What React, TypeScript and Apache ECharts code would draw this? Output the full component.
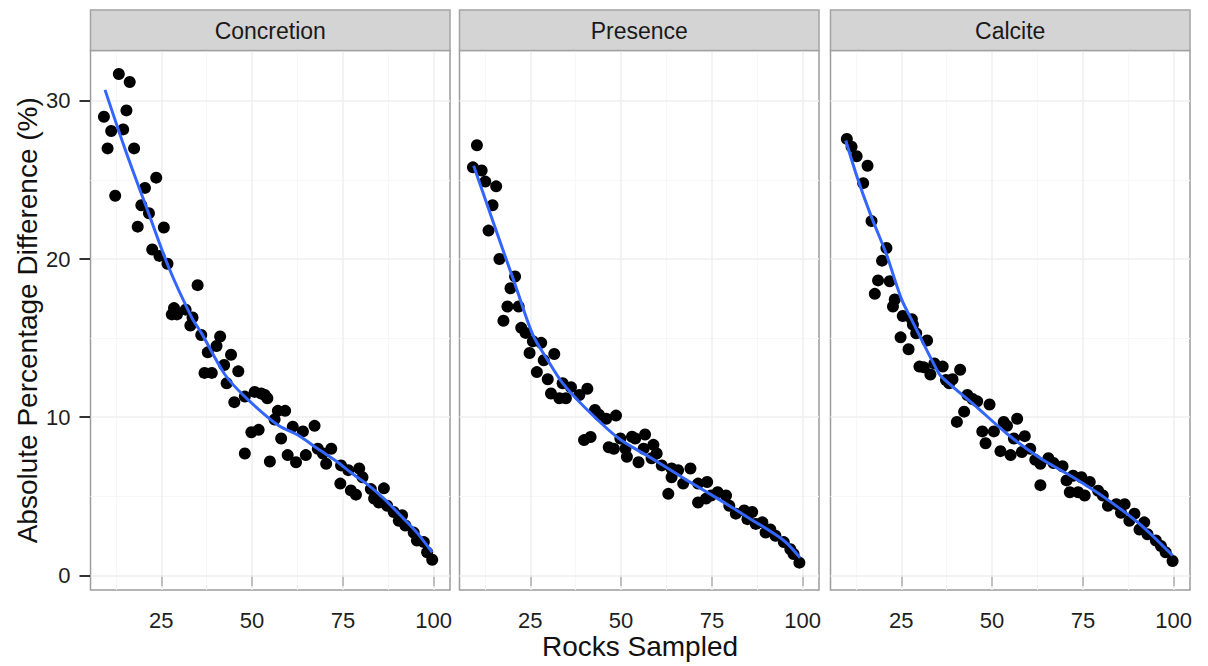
import React, { useEffect, useRef } from "react";
import * as echarts from "echarts";

// ---------- data ----------
const PANELS = ["Concretion", "Presence", "Calcite"];

const concretionPoints: [number, number][] = [
  [9.2, 29.0], [10.2, 27.0], [11.2, 28.1], [12.3, 24.0], [13.3, 31.7], [14.5, 28.2], [15.4, 29.4],
  [16.3, 31.2], [17.5, 27.0], [18.5, 22.05], [19.5, 23.4], [20.5, 24.5], [21.6, 22.9], [22.5, 20.6],
  [23.6, 25.15], [24.5, 20.2], [25.7, 22.0], [26.7, 19.7], [27.9, 16.5], [28.5, 16.9], [29.3, 16.5],
  [31.7, 16.8], [33.6, 16.3], [33.0, 15.8], [35.0, 18.35], [36.0, 15.2], [36.9, 12.8], [37.8, 14.1],
  [38.9, 12.8], [40.2, 14.5], [41.2, 15.1], [42.3, 13.3], [43.0, 12.15], [44.2, 13.95], [45.1, 10.95],
  [46.2, 12.9], [48.0, 11.3], [48.0, 7.7], [49.8, 9.05], [50.7, 11.6], [51.8, 9.2], [52.5, 11.5],
  [53.5, 11.4], [54.2, 11.2], [54.9, 7.2], [56.2, 9.85], [57.1, 10.4], [58.0, 8.65], [59.1, 10.4],
  [59.8, 7.6], [61.2, 9.4], [62.1, 7.15], [64.0, 9.1], [64.8, 7.6], [67.2, 9.45], [68.1, 8.0],
  [69.5, 7.7], [70.4, 7.05], [71.8, 8.0], [74.3, 5.8], [74.5, 6.95], [76.5, 6.65], [77.2, 5.37],
  [78.6, 5.1], [79.5, 6.75], [80.4, 6.2], [82.7, 5.45], [83.6, 4.85], [84.9, 4.6], [86.3, 5.5],
  [87.2, 4.4], [89.0, 4.0], [90.4, 3.45], [91.3, 3.8], [92.2, 3.15], [94.5, 2.7], [95.4, 2.2],
  [97.3, 2.1], [98.2, 1.45], [99.6, 0.98],
];
const concretionSmooth: [number, number][] = [
  [9.5, 30.7], [15.1, 26.9], [21.5, 22.9], [27, 19.5], [33.4, 16.3], [36.1, 15.3], [42.5, 12.7],
  [48, 11.3], [57.1, 9.5], [62.6, 8.87], [68.1, 8.0], [73.5, 7.17], [77.2, 6.5], [82.7, 5.58],
  [86.3, 4.85], [90.9, 3.78], [95.4, 2.7], [99.6, 1.45],
];

const presencePoints: [number, number][] = [
  [9.2, 25.8], [10.3, 27.2], [11.6, 25.6], [12.6, 24.9], [13.5, 21.8], [14.6, 23.4], [15.6, 24.6],
  [16.5, 20.0], [17.6, 16.1], [18.7, 17.0], [19.55, 18.15], [20.8, 18.9], [21.8, 17.0], [22.5, 15.65],
  [23.7, 15.33], [24.8, 14.06], [25.7, 14.8], [26.8, 12.85], [28.0, 14.7], [28.7, 13.6], [29.8, 12.4],
  [30.7, 11.5], [31.6, 14.0], [33.0, 11.2], [33.9, 12.15], [34.8, 11.2], [36.2, 11.9], [38.5, 11.4],
  [39.8, 8.55], [40.7, 11.8], [41.6, 8.75], [42.8, 10.45], [43.9, 10.15], [45.9, 9.9], [46.6, 8.1],
  [48.0, 8.0], [48.6, 10.1], [49.8, 8.65], [51.2, 8.0], [51.6, 7.5], [53.0, 8.76], [53.9, 8.65],
  [54.8, 7.15], [56.2, 8.0], [56.6, 8.9], [58.4, 7.4], [58.9, 8.25], [59.8, 7.7], [61.2, 6.95],
  [63.0, 5.15], [63.9, 6.75], [63.9, 6.2], [65.7, 6.65], [67.1, 5.8], [69.1, 6.75], [71.2, 5.8],
  [71.2, 4.6], [73.4, 4.85], [73.7, 5.9], [74.8, 5.05], [76.6, 5.25], [78.9, 5.05], [79.8, 4.4],
  [81.6, 3.9], [83.9, 4.1], [84.8, 3.55], [86.1, 4.0], [87.1, 3.25], [88.9, 3.35], [89.8, 2.7],
  [91.1, 2.9], [92.5, 2.5], [94.8, 2.1], [96.6, 1.65], [97.5, 1.35], [99.1, 0.8],
];
const presenceSmooth: [number, number][] = [
  [9.4, 25.9], [15.3, 22.0], [21.1, 18.2], [25.7, 15.2], [29.8, 13.6], [33.9, 12.15], [40.3, 10.55],
  [49.4, 8.65], [58.4, 7.4], [67.5, 6.1], [76.6, 4.85], [85.7, 3.55], [94.8, 2.2], [99.3, 1.1],
];

const calcitePoints: [number, number][] = [
  [10.0, 27.6], [11.3, 27.1], [12.7, 26.5], [14.5, 24.8], [15.7, 25.9], [16.8, 22.4], [17.7, 17.8],
  [18.6, 18.65], [19.7, 19.9], [20.9, 20.7], [21.8, 18.6], [22.7, 17.0], [23.2, 17.45], [24.8, 15.05],
  [25.4, 16.4], [27.0, 14.3], [27.9, 16.2], [28.2, 15.85], [29.1, 15.3], [30.0, 13.2], [31.2, 13.15],
  [32.1, 14.85], [33.0, 12.7], [34.1, 13.4], [36.4, 13.2], [37.3, 12.35], [38.2, 12.15], [39.1, 12.4],
  [40.3, 9.7], [41.2, 13.0], [42.3, 10.35], [43.2, 11.4], [44.6, 11.15], [45.9, 11.0], [47.3, 9.1],
  [48.2, 8.35], [49.3, 10.8], [50.5, 9.1], [52.3, 7.85], [53.2, 9.7], [54.1, 9.45], [55.1, 7.6],
  [56.0, 8.65], [56.9, 9.9], [58.2, 7.8], [59.0, 8.8], [60.5, 8.0], [61.9, 7.3], [63.3, 7.05],
  [63.3, 5.7], [65.5, 7.4], [66.9, 7.1], [69.4, 6.9], [70.5, 6.0], [71.4, 5.25], [72.3, 6.3],
  [73.7, 5.25], [74.6, 6.2], [75.5, 5.05], [76.9, 5.9], [79.2, 5.35], [80.5, 5.05], [81.9, 4.4],
  [84.2, 4.5], [85.5, 3.95], [86.5, 4.5], [87.8, 3.45], [89.2, 3.9], [90.6, 2.9], [91.9, 3.35],
  [92.8, 2.6], [95.1, 2.2], [96.5, 1.85], [97.8, 1.45], [99.7, 0.9],
];
const calciteSmooth: [number, number][] = [
  [9.7, 27.5], [13.1, 25.0], [16.8, 22.65], [20.9, 20.3], [25, 17.5], [28.2, 16.0], [34.1, 13.3],
  [35.9, 12.6], [45, 10.8], [54.1, 8.95], [63.3, 7.4], [72.3, 6.2], [81.4, 4.85], [90.6, 3.25],
  [99.7, 1.25],
];

const X_TICKS = [25, 50, 75, 100];
const X_MINOR = [12.5, 37.5, 62.5, 87.5];
const Y_TICKS = [0, 10, 20, 30];
const Y_MINOR = [5, 15, 25];

const X_TITLE = "Rocks Sampled";
const Y_TITLE = "Absolute Percentage Difference (%)";

// ---------- layout ----------
const W = 1208;
const H = 666;
const PANEL_LEFTS = [90.5, 459.5, 830.5];
const PANEL_W = 359.5;
const PANEL_TOP = 50.5;
const PANEL_H = 539.5;
const STRIP_TOP = 10;
const FONT = "'Liberation Sans', Arial, Helvetica, sans-serif";

export default function App() {
  const ref = useRef<HTMLDivElement>(null);

  useEffect(() => {
    if (!ref.current) return;
    const chart = echarts.init(ref.current, null, { renderer: "svg" });

    const pointSets = [concretionPoints, presencePoints, calcitePoints];
    const smoothSets = [concretionSmooth, presenceSmooth, calciteSmooth];

    const grids = PANEL_LEFTS.map((left) => ({
      left,
      top: PANEL_TOP,
      width: PANEL_W,
      height: PANEL_H,
      show: true,
      backgroundColor: "#ffffff",
      borderColor: "#9c9c9c",
      borderWidth: 1.5,
    }));

    const xAxes = PANEL_LEFTS.map((_, i) => ({
      type: "value",
      gridIndex: i,
      min: 5.5,
      max: 104.5,
      axisLine: { show: false },
      splitLine: { show: false },
      axisTick: {
        show: true,
        customValues: X_TICKS,
        length: 11,
        lineStyle: { color: "#333333", width: 2 },
      },
      axisLabel: {
        show: true,
        customValues: X_TICKS,
        margin: 19,
        fontSize: 22,
        fontFamily: FONT,
        color: "#1e1e1e",
        formatter: (v: number) => String(v),
      },
    }));

    const yAxes = PANEL_LEFTS.map((_, i) => ({
      type: "value",
      gridIndex: i,
      min: -0.93,
      max: 33.19,
      axisLine: { show: false },
      splitLine: { show: false },
      axisTick: {
        show: i === 0,
        customValues: Y_TICKS,
        length: 11,
        lineStyle: { color: "#333333", width: 2 },
      },
      axisLabel: {
        show: i === 0,
        customValues: Y_TICKS,
        margin: 20,
        fontSize: 22,
        fontFamily: FONT,
        color: "#1e1e1e",
        formatter: (v: number) => String(v),
      },
    }));

    const gridLines = [
      ...X_MINOR.map((v) => ({ xAxis: v, lineStyle: { color: "#f7f7f7", width: 1, type: "solid" } })),
      ...Y_MINOR.map((v) => ({ yAxis: v, lineStyle: { color: "#f7f7f7", width: 1, type: "solid" } })),
      ...X_TICKS.map((v) => ({ xAxis: v, lineStyle: { color: "#efefef", width: 1.5, type: "solid" } })),
      ...Y_TICKS.map((v) => ({ yAxis: v, lineStyle: { color: "#efefef", width: 1.5, type: "solid" } })),
    ];

    const series: any[] = [];
    PANELS.forEach((_, i) => {
      series.push({
        type: "scatter",
        xAxisIndex: i,
        yAxisIndex: i,
        data: pointSets[i],
        symbol: "circle",
        symbolSize: 12,
        itemStyle: { color: "#000000", opacity: 1 },
        z: 3,
        markLine: {
          silent: true,
          symbol: "none",
          z: 1,
          label: { show: false },
          animation: false,
          data: gridLines,
        },
      });
      series.push({
        type: "line",
        xAxisIndex: i,
        yAxisIndex: i,
        data: smoothSets[i],
        smooth: 0.3,
        showSymbol: false,
        symbol: "none",
        lineStyle: { color: "#3366ff", width: 3 },
        z: 4,
      });
    });

    const graphics: any[] = [];
    PANELS.forEach((name, i) => {
      graphics.push({
        type: "rect",
        shape: { x: PANEL_LEFTS[i], y: STRIP_TOP, width: PANEL_W, height: PANEL_TOP - STRIP_TOP },
        style: { fill: "#d4d4d4", stroke: "#a3a3a3", lineWidth: 1.5 },
        z: 10,
      });
      graphics.push({
        type: "text",
        x: PANEL_LEFTS[i] + PANEL_W / 2,
        y: (STRIP_TOP + PANEL_TOP) / 2 + 1,
        style: {
          text: name,
          textAlign: "center",
          textVerticalAlign: "middle",
          fontSize: 23,
          fontFamily: FONT,
          fill: "#1a1a1a",
        },
        z: 11,
      });
    });
    graphics.push({
      type: "text",
      x: 640,
      y: 646,
      style: {
        text: X_TITLE,
        textAlign: "center",
        textVerticalAlign: "middle",
        fontSize: 28,
        fontFamily: FONT,
        fill: "#111111",
      },
    });
    graphics.push({
      type: "text",
      x: 27,
      y: PANEL_TOP + PANEL_H / 2,
      rotation: Math.PI / 2,
      style: {
        text: Y_TITLE,
        textAlign: "center",
        textVerticalAlign: "middle",
        fontSize: 28,
        fontFamily: FONT,
        fill: "#111111",
      },
    });

    chart.setOption({
      animation: false,
      backgroundColor: "#ffffff",
      grid: grids,
      xAxis: xAxes,
      yAxis: yAxes,
      series,
      graphic: graphics,
    });

    return () => chart.dispose();
  }, []);

  return (
    <div
      ref={ref}
      style={{ position: "absolute", left: 0, top: 0, width: W, height: H, background: "#fff" }}
    />
  );
}
